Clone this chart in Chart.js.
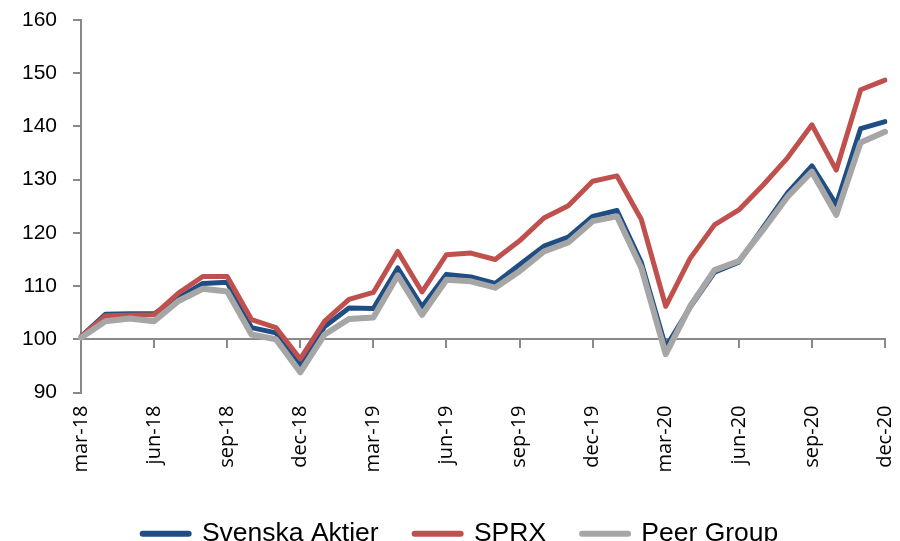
<!DOCTYPE html>
<html>
<head>
<meta charset="utf-8">
<script src="https://cdn.jsdelivr.net/npm/chart.js@4.4.0/dist/chart.umd.min.js"></script>
<style>
  html, body { margin: 0; padding: 0; overflow: hidden; background: #fff; }
</style>
</head>
<body>
<canvas id="chart" width="900" height="557"></canvas>
<script>
// monthly index values, mar-18 .. dec-20
const months = [
  "mar-18", "apr-18", "maj-18", "jun-18", "jul-18", "aug-18", "sep-18", "okt-18", "nov-18", "dec-18",
  "jan-19", "feb-19", "mar-19", "apr-19", "maj-19", "jun-19", "jul-19", "aug-19", "sep-19", "okt-19", "nov-19", "dec-19",
  "jan-20", "feb-20", "mar-20", "apr-20", "maj-20", "jun-20", "jul-20", "aug-20", "sep-20", "okt-20", "nov-20", "dec-20"
]
const svenskaAktier = [
  100.5, 104.7, 104.8, 104.8, 107.8, 110.5, 110.7, 102.2, 101.2, 95.1,
  102.4, 105.9, 105.8, 113.4, 106.1, 112.2, 111.7, 110.5, 114, 117.5, 119.2, 123.1,
  124.2, 114.4, 98.5, 106, 112.6, 114.5, 121, 127.5, 132.6, 125.3, 139.6, 140.9
]
const sprx = [
  100.5, 104.4, 104.5, 104.6, 108.7, 111.8, 111.8, 103.7, 102.2, 96.3,
  103.4, 107.5, 108.8, 116.5, 108.9, 115.9, 116.2, 115, 118.5, 122.8, 125.1, 129.7,
  130.7, 122.5, 106.2, 115.2, 121.5, 124.3, 129, 134.1, 140.3, 131.8, 146.9, 148.7
]
const peerGroup = [
  100.3, 103.4, 103.9, 103.4, 107.2, 109.5, 109, 100.9, 100, 93.8,
  100.9, 103.8, 104.1, 112, 104.6, 111.2, 110.9, 109.7, 112.8, 116.5, 118.2, 122.2,
  123.1, 113.4, 97.2, 106.2, 113, 114.7, 120.6, 126.8, 131.5, 123.4, 137, 139
]
const yTicks = { min: 90, max: 160, step: 10 }

const axisGray = "#898989"

// only every third month gets a tick / label
function everyThird(axis) {
  axis.ticks = axis.ticks.filter((t, i) => i % 3 === 0)
}

function series(label, data, color, width, order) {
  return {
    label: label,
    data: data,
    borderColor: color,
    backgroundColor: color,
    borderWidth: width,
    pointRadius: 0,
    tension: 0,
    borderJoinStyle: "round",
    borderCapStyle: "round",
    order: order,
    xAxisID: "x",
  }
}

// legend sits a little right of the canvas centre in the original
const legendNudge = {
  id: "legendNudge",
  afterLayout(chart) {
    chart.legend.left += 7
    chart.legend.right += 7
  },
}

const ctx = document.getElementById("chart").getContext("2d")
new Chart(ctx, {
  type: "line",
  data: {
    labels: months,
    datasets: [
      series("Svenska Aktier", svenskaAktier, "#1F4E85", 5, 3),
      series("SPRX", sprx, "#C0504D", 5, 2),
      series("Peer Group", peerGroup, "#A6A6A6", 6, 1),
    ],
  },
  plugins: [legendNudge],
  options: {
    responsive: false,
    animation: false,
    layout: { padding: { left: 22, right: 15, top: 20, bottom: 0 } },
    plugins: {
      tooltip: { enabled: false },
      legend: {
        position: "bottom",
        labels: {
          // zero-height box stroked thick = short line sample
          boxWidth: 46,
          boxHeight: 0,
          padding: 36,
          color: "#000",
          font: { family: "Liberation Sans", size: 26.5 },
          generateLabels: (chart) =>
            chart.data.datasets.map((ds, i) => ({
              text: ds.label,
              fillStyle: ds.borderColor,
              strokeStyle: ds.borderColor,
              lineWidth: 6,
              lineJoin: "round",
              datasetIndex: i,
              hidden: false,
            })),
        },
      },
    },
    scales: {
      x: {
        type: "category",
        position: "bottom",
        offset: false,
        grid: { display: false },
        border: { display: false },
        ticks: {
          autoSkip: false,
          minRotation: 90,
          maxRotation: 90,
          padding: 5,
          color: "#000",
          font: { family: "Open Sans", size: 20 },
        },
        afterBuildTicks: everyThird,
        afterFit: (s) => {
          s.height = 92
          s.paddingLeft = 0
          s.paddingRight = 0
        },
      },
      x2: {
        type: "category",
        position: { y: 100 },
        offset: false,
        ticks: { display: false },
        grid: { drawOnChartArea: false, drawTicks: true, tickLength: 8, color: axisGray, lineWidth: 2 },
        border: { color: axisGray, width: 2 },
        afterBuildTicks: everyThird,
        afterFit: (s) => {
          s.height = 0
          s.paddingLeft = 0
          s.paddingRight = 0
        },
      },
      y: {
        min: yTicks.min,
        max: yTicks.max,
        ticks: {
          stepSize: yTicks.step,
          padding: 16,
          color: "#000",
          font: { family: "Liberation Sans", size: 21 },
        },
        grid: { drawOnChartArea: false, drawTicks: true, tickLength: 8, color: axisGray, lineWidth: 2 },
        border: { color: axisGray, width: 2 },
        afterFit: (s) => {
          s.width = 59
          s.paddingTop = 0
          s.paddingBottom = 0
        },
      },
    },
  },
})
</script>
</body>
</html>
